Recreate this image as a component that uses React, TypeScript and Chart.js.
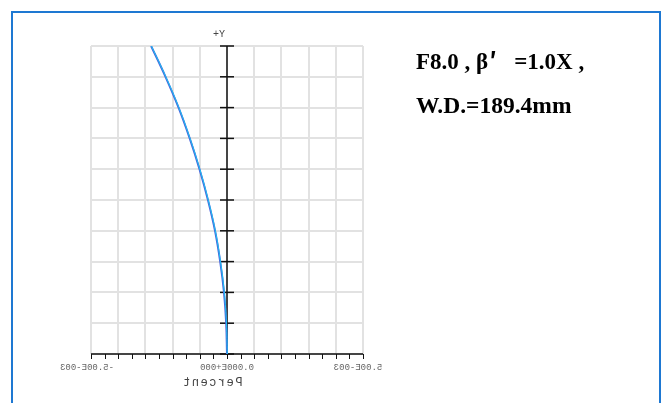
import React, { useEffect, useRef } from "react";
import { Chart, registerables } from "chart.js";

Chart.register(...registerables);

// Relative field height (normalised, 0 = axis, 1 = full field)
const fieldY = [0, 0.1, 0.2, 0.3, 0.4, 0.5, 0.6, 0.7, 0.8, 0.9, 1.0];
// Distortion (Percent), values
const distBlue = [0, -0.00003, -0.00011, -0.00025, -0.00044, -0.0007, -0.00101, -0.00137, -0.00178, -0.00226, -0.00279];
const distCyan = [0.00001, -0.00002, -0.0001, -0.00024, -0.00043, -0.00069, -0.001, -0.00136, -0.00177, -0.00225, -0.00278];

const xTickValues = [-0.005, 0, 0.005];
const xTickLabels = ["-5.00E-003", "0.000E+000", "5.00E-003"];
const xTitle = "Percent";
const yTitle = "+Y";
const noteLine1 = ["F8.0 , β", "′", "=1.0X ,"];
const noteLine2 = "W.D.=189.4mm";

export default function App() {
  const ref = useRef<HTMLCanvasElement | null>(null);

  useEffect(() => {
    document.body.style.margin = "0";
    const canvas = ref.current;
    if (!canvas) return;

    const decor = {
      id: "decor",
      beforeDatasetsDraw(chart: any) {
        const ctx = chart.ctx;
        const xs = chart.scales.x;
        const ys = chart.scales.y;
        const x0 = xs.getPixelForValue(0);
        const top = ys.getPixelForValue(1);
        const bot = ys.getPixelForValue(0);
        const left = xs.getPixelForValue(-0.005);
        const right = xs.getPixelForValue(0.005);
        ctx.save();
        ctx.strokeStyle = "#111";
        ctx.lineWidth = 1.5;
        // vertical axis
        ctx.beginPath();
        ctx.moveTo(x0, top);
        ctx.lineTo(x0, bot);
        ctx.stroke();
        for (let i = 0; i <= 10; i++) {
          const py = ys.getPixelForValue(i / 10);
          ctx.beginPath();
          ctx.moveTo(x0 - 7, py);
          ctx.lineTo(x0 + 7, py);
          ctx.stroke();
        }
        // horizontal axis
        ctx.beginPath();
        ctx.moveTo(left, bot);
        ctx.lineTo(right, bot);
        ctx.stroke();
        ctx.lineWidth = 1;
        for (let i = 0; i <= 20; i++) {
          const px = Math.round(xs.getPixelForValue(-0.005 + i * 0.0005)) + 0.5;
          ctx.beginPath();
          ctx.moveTo(px, bot);
          ctx.lineTo(px, bot + 5);
          ctx.stroke();
        }
        ctx.restore();
      },
      afterDraw(chart: any) {
        const ctx = chart.ctx;
        const xs = chart.scales.x;
        const ys = chart.scales.y;
        const bot = ys.getPixelForValue(0);
        const top = ys.getPixelForValue(1);
        ctx.save();
        // mirrored tick labels
        ctx.font = "9px 'Liberation Mono'";
        ctx.fillStyle = "#666";
        ctx.textAlign = "center";
        ctx.textBaseline = "middle";
        const offs = [-4, 0, -5];
        xTickValues.forEach((v, i) => {
          ctx.save();
          ctx.translate(xs.getPixelForValue(v) + offs[i], bot + 14);
          ctx.scale(-1, 1);
          ctx.fillText(xTickLabels[i], 0, 0);
          ctx.restore();
        });
        // mirrored axis title
        ctx.save();
        ctx.font = "12px 'Liberation Mono'";
        (ctx as any).letterSpacing = "1.5px";
        ctx.fillStyle = "#444";
        ctx.translate(xs.getPixelForValue(0) - 15, bot + 29);
        ctx.scale(-1, 1);
        ctx.fillText(xTitle, 0, 0);
        ctx.restore();
        // +Y label
        ctx.font = "10px 'Liberation Mono'";
        ctx.fillStyle = "#444";
        ctx.fillText(yTitle, xs.getPixelForValue(0) - 8, top - 12);
        // annotation
        ctx.fillStyle = "#000";
        ctx.textAlign = "left";
        ctx.textBaseline = "alphabetic";
        ctx.font = "bold 23px 'Liberation Serif'";
        const w1 = ctx.measureText(noteLine1[0]).width;
        ctx.fillText(noteLine1[0], 416, 69);
        ctx.font = "bold 23px 'Noto Sans CJK SC'";
        ctx.fillText(noteLine1[1], 416 + w1 + 1, 69);
        ctx.font = "bold 23px 'Liberation Serif'";
        ctx.fillText(noteLine1[2], 416 + w1 + 26, 69);
        ctx.font = "bold 23.5px 'Liberation Serif'";
        ctx.fillText(noteLine2, 416, 112.5);
        // frame
        ctx.strokeStyle = "#1e78d2";
        ctx.lineWidth = 2;
        ctx.strokeRect(12, 12, 648, 420);
        ctx.restore();
      },
    };

    const chart = new Chart(canvas, {
      type: "scatter",
      data: {
        datasets: [
          {
            data: fieldY.map((y, i) => ({ x: distCyan[i], y })),
            showLine: true,
            borderColor: "#19c6f2",
            borderWidth: 1,
            pointRadius: 0,
            tension: 0.4,
          },
          {
            data: fieldY.map((y, i) => ({ x: distBlue[i], y })),
            showLine: true,
            borderColor: "#4a62dc",
            borderWidth: 2,
            pointRadius: 0,
            tension: 0.4,
          },
        ],
      },
      options: {
        responsive: false,
        animation: false,
        layout: { padding: { left: 91, right: 303, top: 46, bottom: 49 } },
        plugins: { legend: { display: false }, tooltip: { enabled: false } },
        scales: {
          x: {
            type: "linear",
            min: -0.005,
            max: 0.005,
            ticks: { display: false, stepSize: 0.001 },
            grid: { color: "#e2e2e2", lineWidth: 2, drawTicks: false },
            border: { display: false },
          },
          y: {
            type: "linear",
            min: 0,
            max: 1,
            ticks: { display: false, stepSize: 0.1 },
            grid: { color: "#e2e2e2", lineWidth: 2, drawTicks: false },
            border: { display: false },
          },
        },
      },
      plugins: [decor],
    });
    return () => chart.destroy();
  }, []);

  return <canvas ref={ref} width={666} height={403} style={{ display: "block" }} />;
}
